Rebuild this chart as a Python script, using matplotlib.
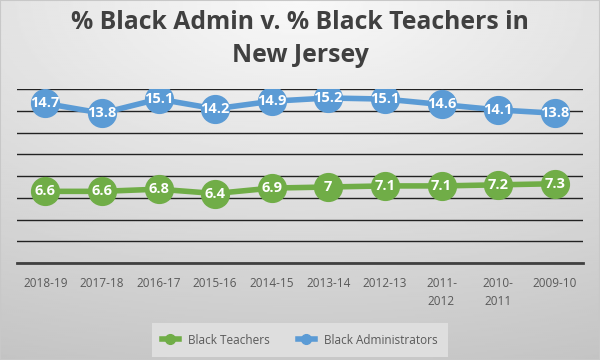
import numpy as np
import matplotlib.pyplot as plt

years = ['2018-19', '2017-18', '2016-17', '2015-16', '2014-15', '2013-14',
         '2012-13', '2011-\n2012', '2010-\n2011', '2009-10']
teachers = [6.6, 6.6, 6.8, 6.4, 6.9, 7, 7.1, 7.1, 7.2, 7.3]
admins = [14.7, 13.8, 15.1, 14.2, 14.9, 15.2, 15.1, 14.6, 14.1, 13.8]

green = '#70AD47'
blue = '#5B9BD5'

fig = plt.figure(figsize=(6, 3.6), dpi=100)

# gradient background
bg = fig.add_axes([0, 0, 1, 1], zorder=-10)
yy, xx = np.mgrid[0:1:200j, 0:1:300j]
r = np.sqrt((xx - 0.5) ** 2 * 0.8 + (yy - 0.0) ** 2)
shade = 0.975 - 0.19 * np.clip(r, 0, 1.1)
bg.imshow(shade, cmap='gray', vmin=0, vmax=1, aspect='auto', extent=[0, 1, 1, 0])
bg.axis('off')
fig.patches.append(plt.Rectangle((0, 0), 1, 1, transform=fig.transFigure,
                                 fill=False, edgecolor='#c8c8c8', lw=1.5))

ax = fig.add_axes([17 / 600, 1 - 263 / 360, 566 / 600, (263 - 89.3) / 360])
ax.patch.set_alpha(0)
x = np.arange(len(years))

for vals, col, lab in [(teachers, green, 'Black Teachers'), (admins, blue, 'Black Administrators')]:
    ax.plot(x, vals, color=col, lw=4, marker='o', ms=20, label=lab, zorder=3)
    for xi, v in zip(x, vals):
        ax.text(xi, v, f'{v:g}', ha='center', va='center', color='white',
                fontsize=10.5, fontweight='bold', family='Open Sans', zorder=4)

ax.set_xlim(-0.5, len(years) - 0.5)
ax.set_ylim(0, 16)
ax.set_yticks(np.arange(0, 17, 2))
ax.yaxis.grid(True, color='#222222', lw=1)
ax.tick_params(axis='y', left=False, labelleft=False)
ax.set_xticks(x)
ax.set_xticklabels(years, fontsize=8.5, color='#595959', family='Open Sans',
                   linespacing=1.5, va='top')
ax.tick_params(axis='x', length=0, pad=10)
for s in ['top', 'right', 'left']:
    ax.spines[s].set_visible(False)
ax.spines['bottom'].set_color('#404040')
ax.spines['bottom'].set_linewidth(2)
ax.set_axisbelow(True)

fig.text(0.5, 1 - 39 / 360, '% Black Admin v. % Black Teachers in\nNew Jersey', ha='center', va='center',
         fontsize=17.8, fontweight='bold', color='#404040', family='Open Sans', linespacing=1.4)

leg = fig.legend(loc='center', bbox_to_anchor=(300 / 600, 1 - 340 / 360), ncol=2,
                 frameon=True, fancybox=False, framealpha=1, facecolor='#dedede', edgecolor='none',
                 prop={'family': 'Open Sans', 'size': 8.5}, markerscale=0.35,
                 handlelength=1.4, columnspacing=2.4, borderpad=0.9)
for t in leg.get_texts():
    t.set_color('#595959')

fig.savefig('out.png', dpi=100)
